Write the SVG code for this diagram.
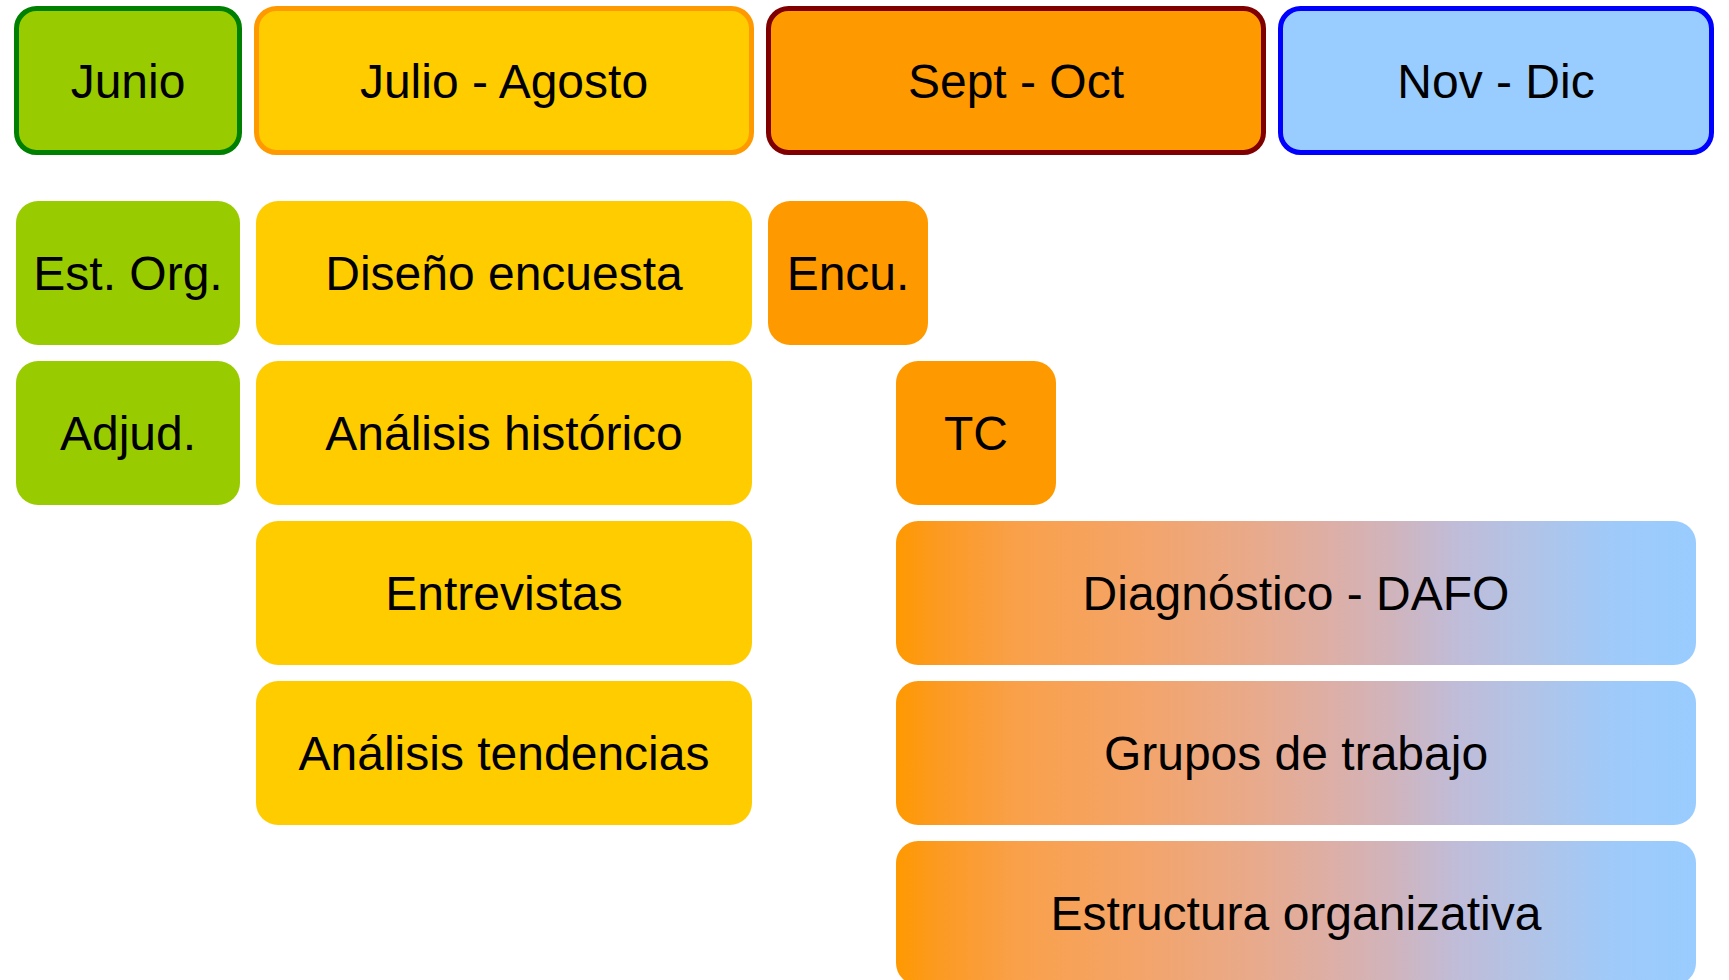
<svg xmlns="http://www.w3.org/2000/svg" width="1729" height="980" viewBox="0 0 1729 980">
<style>
text{font-family:"Liberation Sans",Arial,sans-serif;font-size:48px;fill:#000;text-anchor:middle}
.hd{stroke-width:5}
.g{fill:#99CC00}
.y{fill:#FFCC00}
.o{fill:#FF9900}
.b{fill:#99CCFF}
.gr{fill:url(#grad)}
</style>
<defs>
<linearGradient id="grad" x1="0" y1="0" x2="1" y2="0">
<stop offset="0" stop-color="#FF9900"/>
<stop offset="0.05" stop-color="#FC9A20"/>
<stop offset="0.15" stop-color="#F9A04A"/>
<stop offset="0.3" stop-color="#F4A468"/>
<stop offset="0.45" stop-color="#E8AA8C"/>
<stop offset="0.55" stop-color="#DCAFA8"/>
<stop offset="0.62" stop-color="#D0B4BC"/>
<stop offset="0.7" stop-color="#C0BCD8"/>
<stop offset="0.8" stop-color="#B0C4E8"/>
<stop offset="0.9" stop-color="#9ECAFA"/>
<stop offset="1" stop-color="#99CCFF"/>
</linearGradient>
</defs>
<g id="h-junio"><rect class="hd g" x="16.5" y="8.5" width="223" height="144" rx="20" stroke="#008000"/><text x="128" y="98">Junio</text></g>
<g id="h-julio"><rect class="hd y" x="256.5" y="8.5" width="495" height="144" rx="20" stroke="#FF9900"/><text x="504" y="98">Julio - Agosto</text></g>
<g id="h-sept"><rect class="hd o" x="768.5" y="8.5" width="495" height="144" rx="20" stroke="#800000"/><text x="1016" y="98">Sept - Oct</text></g>
<g id="h-nov"><rect class="hd b" x="1280.5" y="8.5" width="431" height="144" rx="20" stroke="#0000FF"/><text x="1496" y="98">Nov - Dic</text></g>
<g id="estorg"><rect class="g" x="16" y="201" width="224" height="144" rx="22"/><text x="128" y="290">Est. Org.</text></g>
<g id="adjud"><rect class="g" x="16" y="361" width="224" height="144" rx="22"/><text x="128" y="450">Adjud.</text></g>
<g id="diseno"><rect class="y" x="256" y="201" width="496" height="144" rx="22"/><text x="504" y="290">Diseño encuesta</text></g>
<g id="analisis-hist"><rect class="y" x="256" y="361" width="496" height="144" rx="22"/><text x="504" y="450">Análisis histórico</text></g>
<g id="entrevistas"><rect class="y" x="256" y="521" width="496" height="144" rx="22"/><text x="504" y="610">Entrevistas</text></g>
<g id="analisis-tend"><rect class="y" x="256" y="681" width="496" height="144" rx="22"/><text x="504" y="770">Análisis tendencias</text></g>
<g id="encu"><rect class="o" x="768" y="201" width="160" height="144" rx="22"/><text x="848" y="290">Encu.</text></g>
<g id="tc"><rect class="o" x="896" y="361" width="160" height="144" rx="22"/><text x="976" y="450">TC</text></g>
<g id="dafo"><rect class="gr" x="896" y="521" width="800" height="144" rx="22"/><text x="1296" y="610">Diagnóstico - DAFO</text></g>
<g id="grupos"><rect class="gr" x="896" y="681" width="800" height="144" rx="22"/><text x="1296" y="770">Grupos de trabajo</text></g>
<g id="estructura"><rect class="gr" x="896" y="841" width="800" height="144" rx="22"/><text x="1296" y="930">Estructura organizativa</text></g>
<g id="connectors"></g>
</svg>
